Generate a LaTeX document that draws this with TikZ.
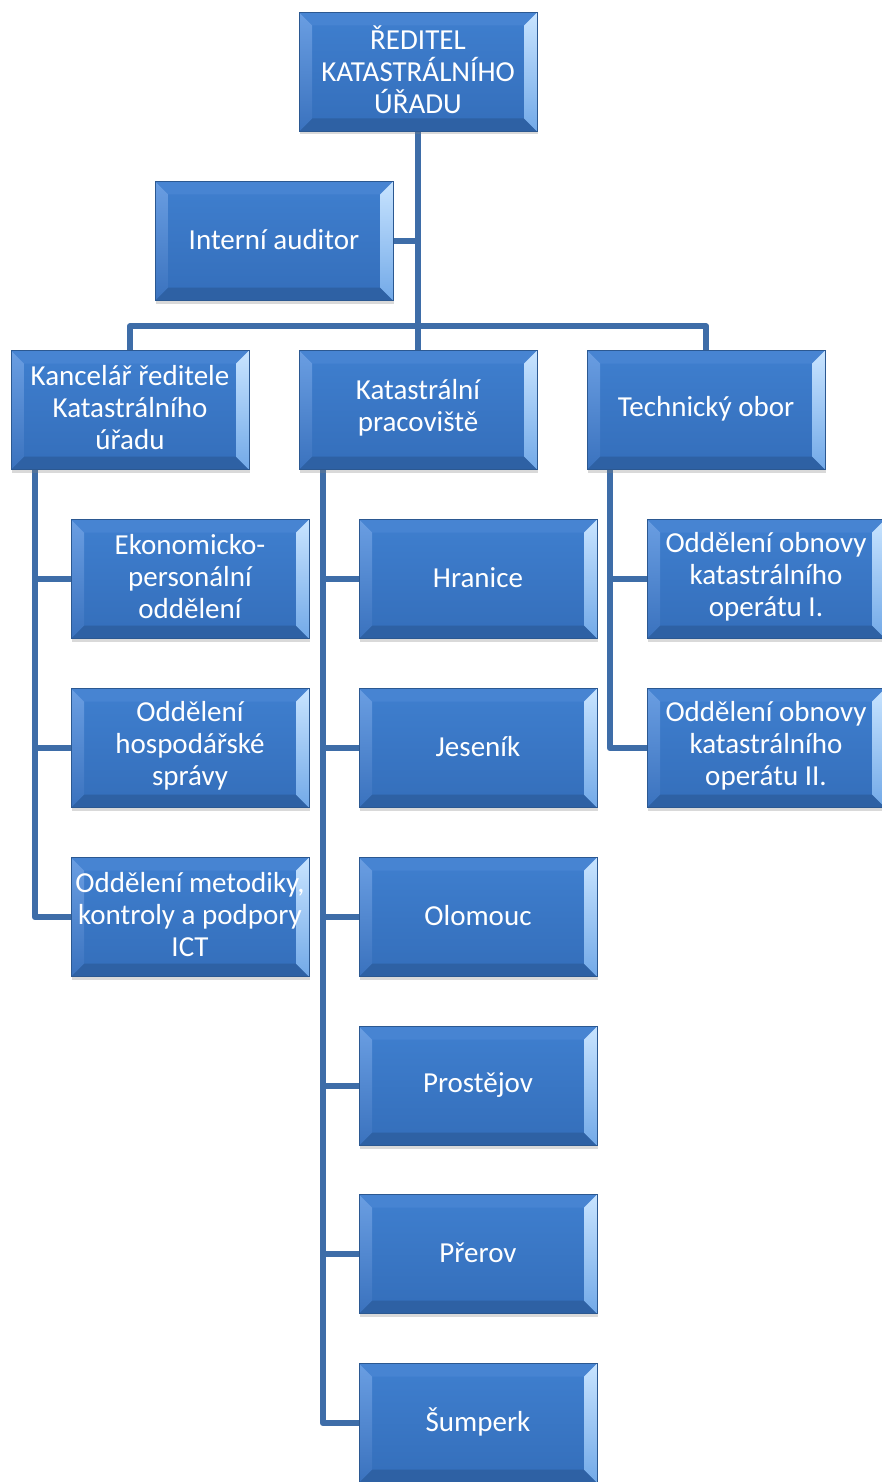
\documentclass[tikz,border=0pt]{standalone}
\usepackage{fontspec}
\setmainfont{Carlito}
\usetikzlibrary{calc,shadows}
\pgfdeclarelayer{background}
\pgfsetlayers{background,main}
\definecolor{lineblue}{HTML}{3E6DA8}
\definecolor{boxedge}{HTML}{2B5891}
\definecolor{facetop}{HTML}{3F7FCF}
\definecolor{facebot}{HTML}{346EBA}
\definecolor{bevtop}{HTML}{4784D2}
\definecolor{bevbot}{HTML}{2E61A4}
\definecolor{bevlt}{HTML}{6A9EE2}
\definecolor{bevlb}{HTML}{3A72BE}
\definecolor{bevrt}{HTML}{C8E4FF}
\definecolor{bevrb}{HTML}{72A9E8}
\tikzset{
  orgbox/.style={
    minimum width=238pt, minimum height=119pt, inner sep=0pt,
    draw=boxedge, line width=0.8pt,
    drop shadow={shadow xshift=1pt, shadow yshift=-3pt, opacity=0.3},
    path picture={
      \path (path picture bounding box.south west) coordinate (psw)
            (path picture bounding box.north east) coordinate (pne);
      \path (psw) ++(13pt,13pt) coordinate (qsw);
      \path (pne) ++(-13pt,-13pt) coordinate (qne);
      \fill[top color=facetop, bottom color=facebot] (psw) rectangle (pne);
      \fill[bevtop] (psw|-pne) -- (pne) -- (qne) -- (qsw|-qne) -- cycle;
      \fill[bevbot] (psw) -- (psw-|pne) -- (qne|-qsw) -- (qsw) -- cycle;
      \shade[top color=bevlt, bottom color=bevlb] (psw) -- (qsw) -- (qsw|-qne) -- (psw|-pne) -- cycle;
      \shade[top color=bevrt, bottom color=bevrb] (psw-|pne) -- (pne) -- (qne) -- (qne|-qsw) -- cycle;
    }},
  lbl/.style={text=white, align=center, font=\fontsize{29}{32}\selectfont, inner sep=0pt},
  conn/.style={draw=lineblue, line width=6pt, line join=round, line cap=butt}
}
\begin{document}
\begin{tikzpicture}[x=1pt,y=-1pt]
\useasboundingbox (0,0) rectangle (882,1482);
\clip (0,0) rectangle (882,1482);
% boxes
\path
  node[orgbox] (top) at (418,72) {}
  node[orgbox] (aud) at (274,241) {}
  node[orgbox] (kan) at (130,410) {}
  node[orgbox] (kp) at (418,410) {}
  node[orgbox] (tech) at (706,410) {}
  node[orgbox] (l1) at (190,579) {}
  node[orgbox] (l2) at (190,748) {}
  node[orgbox] (l3) at (190,917) {}
  node[orgbox] (m1) at (478,579) {}
  node[orgbox] (m2) at (478,748) {}
  node[orgbox] (m3) at (478,917) {}
  node[orgbox] (m4) at (478,1086) {}
  node[orgbox] (m5) at (478,1254) {}
  node[orgbox] (m6) at (478,1423) {}
  node[orgbox] (r1) at (766,579) {}
  node[orgbox] (r2) at (766,748) {};
% labels
\node[lbl] (ttop) at ($(top)+(0,-2)$) {ŘEDITEL\\KATASTRÁLNÍHO\\ÚŘADU};
\node[lbl] (taud) at ($(aud)+(0,-1)$) {Interní auditor};
\node[lbl] (tkan) at ($(kan)+(0,-2)$) {Kancelář ředitele\\Katastrálního\\úřadu};
\node[lbl] (tkp) at ($(kp)+(0,-2)$) {Katastrální\\pracoviště};
\node[lbl] (ttech) at ($(tech)+(0,-1)$) {Technický obor};
\node[lbl] (tl1) at ($(l1)+(0,-2)$) {Ekonomicko-\\personální\\oddělení};
\node[lbl] (tl2) at ($(l2)+(0,-2)$) {Oddělení\\hospodářské\\správy};
\node[lbl] (tl3) at ($(l3)+(0,-2)$) {Oddělení metodiky,\\kontroly a podpory\\ICT};
\node[lbl] (tm1) at ($(m1)+(0,-1)$) {Hranice};
\node[lbl] (tm2) at ($(m2)+(0,-1)$) {Jeseník};
\node[lbl] (tm3) at ($(m3)+(0,-1)$) {Olomouc};
\node[lbl] (tm4) at ($(m4)+(0,-1)$) {Prostějov};
\node[lbl] (tm5) at ($(m5)+(0,-1)$) {Přerov};
\node[lbl] (tm6) at ($(m6)+(0,-1)$) {Šumperk};
\node[lbl] (tr1) at ($(r1)+(0,-2)$) {Oddělení obnovy\\katastrálního\\operátu I.};
\node[lbl] (tr2) at ($(r2)+(0,-2)$) {Oddělení obnovy\\katastrálního\\operátu II.};
% connectors behind the boxes
\begin{pgfonlayer}{background}
\draw[conn] (top.south) -- (kp.north);
\draw[conn] (aud.east) -- (aud.east -| top.south);
\draw[conn] (kan.north) -- ++(0,-24) -| (tech.north);
\coordinate (kl) at ($(kan.south west)+(24,0)$);
\coordinate (ml) at ($(kp.south west)+(24,0)$);
\coordinate (rl) at ($(tech.south west)+(23,0)$);
\foreach \c in {l1,l2,l3} \draw[conn] (kl) |- (\c.west);
\foreach \c in {m1,m2,m3,m4,m5,m6} \draw[conn] (ml) |- (\c.west);
\foreach \c in {r1,r2} \draw[conn] (rl) |- (\c.west);
\end{pgfonlayer}
\end{tikzpicture}
\end{document}
